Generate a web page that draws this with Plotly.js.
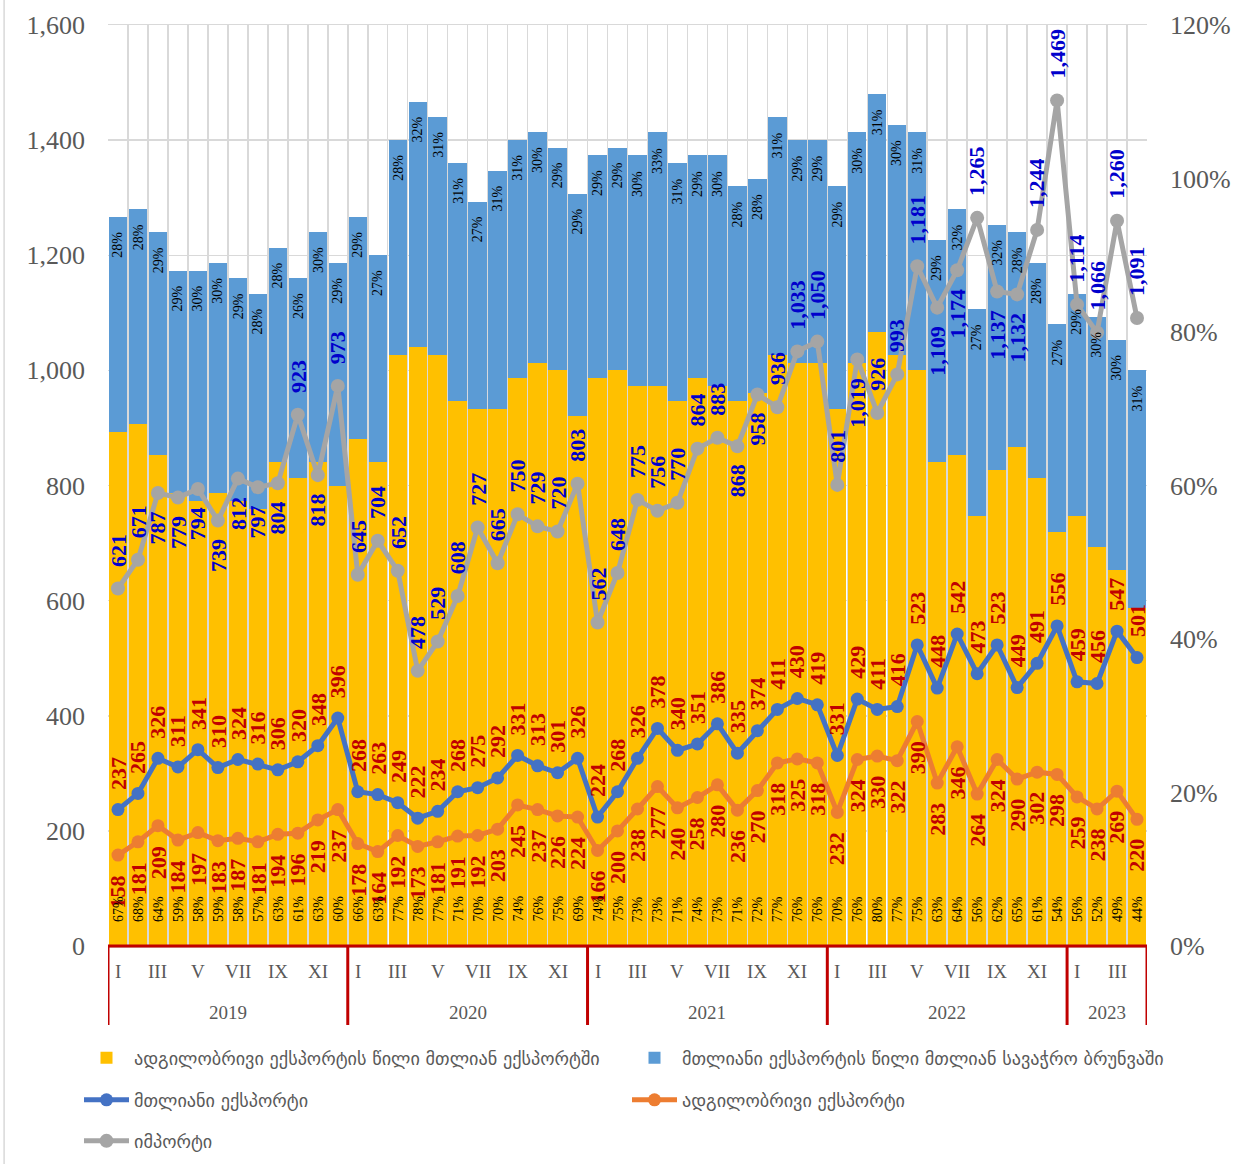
<!DOCTYPE html>
<html><head><meta charset="utf-8">
<script src="https://cdn.plot.ly/plotly-3.0.1.min.js"></script>
<style>body{margin:0;background:#fff}#chart{width:1237px;height:1164px}</style>
</head><body><div id="chart"></div>
<script>
// ---- data ----
const years = ['2019', '2020', '2021', '2022', '2023'];
const monthsPerYear = [12, 12, 12, 12, 4];
const romans = ['I','II','III','IV','V','VI','VII','VIII','IX','X','XI','XII'];
const pctTicks = [0, 20, 40, 60, 80, 100, 120];

// share of local export in total export (%)
const localShare = [67,68,64,59,58,59,58,57,63,61,63,60,
                    66,63,77,78,77,71,70,70,74,76,75,69,
                    74,75,73,73,71,74,73,71,72,77,76,76,
                    70,76,80,77,75,63,64,56,62,65,61,54,
                    56,52,49,44];
// share of total export in total trade (%)
const exportShare = [28,28,29,29,30,30,29,28,28,26,30,29,
                     29,27,28,32,31,31,27,31,31,30,29,29,
                     29,29,30,33,31,29,30,28,28,31,29,29,
                     29,30,31,30,31,29,32,27,32,28,28,27,
                     29,30,30,31];
// total export
const totalExport = [237,265,326,311,341,310,324,316,306,320,348,396,
                     268,263,249,222,234,268,275,292,331,313,301,326,
                     224,268,326,378,340,351,386,335,374,411,430,419,
                     331,429,411,416,523,448,542,473,523,449,491,556,
                     459,456,547,501];
// local export
const localExport = [158,181,209,184,197,183,187,181,194,196,219,237,
                     178,164,192,173,181,191,192,203,245,237,226,224,
                     166,200,238,277,240,258,280,236,270,318,325,318,
                     232,324,330,322,390,283,346,264,324,290,302,298,
                     259,238,269,220];
// import
const imports = [621,671,787,779,794,739,812,797,804,923,818,973,
                 645,704,652,478,529,608,727,665,750,729,720,803,
                 562,648,775,756,770,864,883,868,958,936,1033,1050,
                 801,1019,926,993,1181,1109,1174,1265,1137,1132,1244,1469,
                 1114,1066,1260,1091];

// label placement for import values (a = above point, b = below point)
const importLabelPos = ('aabbbbbbbaba' + 'aaaaaaaaaaaa' + 'aaaaaaabbaaa' + 'abaaabbabbaa' + 'aaaa').split('');

const names = {
  localShare: 'ადგილობრივი ექსპორტის წილი მთლიან ექსპორტში',
  exportShare: 'მთლიანი ექსპორტის წილი მთლიან სავაჭრო ბრუნვაში',
  totalExport: 'მთლიანი ექსპორტი',
  localExport: 'ადგილობრივი ექსპორტი',
  imports: 'იმპორტი'
};

// ---- build ----
const xIdx = totalExport.map((_, i) => i);
const fmt = v => v.toLocaleString('en-US');
const serif = 'Liberation Serif, Times New Roman, serif';
const geo = 'DejaVu Sans, Noto Sans, sans-serif';
const grey = '#595959';

const traces = [
  {type:'bar', x:xIdx, y:localShare, xaxis:'x', yaxis:'y', name:names.localShare,
   marker:{color:'#FFC000', line:{width:0}}, legend:'legend', showlegend:true, hoverinfo:'skip'},
  {type:'bar', x:xIdx, y:exportShare, xaxis:'x', yaxis:'y', name:names.exportShare,
   marker:{color:'#5B9BD5', line:{width:0}}, legend:'legend2', showlegend:true, hoverinfo:'skip'},
  {type:'scatter', mode:'lines+markers', x:xIdx, y:totalExport, xaxis:'x', yaxis:'y2', name:names.totalExport,
   line:{color:'#4472C4', width:5}, marker:{color:'#4472C4', size:13}, legend:'legend3', showlegend:true},
  {type:'scatter', mode:'lines+markers', x:xIdx, y:localExport, xaxis:'x', yaxis:'y2', name:names.localExport,
   line:{color:'#ED7D31', width:5}, marker:{color:'#ED7D31', size:13}, legend:'legend4', showlegend:true},
  {type:'scatter', mode:'lines+markers', x:xIdx, y:imports, xaxis:'x', yaxis:'y2', name:names.imports,
   line:{color:'#A5A5A5', width:5}, marker:{color:'#A5A5A5', size:14}, legend:'legend5', showlegend:true}
];

const annotations = [];
const bigFont = c => ({family:serif, size:22, color:c, weight:'bold'});
xIdx.forEach(i => {
  const up = importLabelPos[i] === 'a';
  annotations.push({x:i, y:imports[i], xref:'x', yref:'y2', text:fmt(imports[i]), textangle:-90,
    showarrow:false, xanchor:'center', yanchor: up ? 'bottom' : 'top', yshift: up ? 20 : -16, font:bigFont('#0000CC')});
  annotations.push({x:i, y:totalExport[i], xref:'x', yref:'y2', text:fmt(totalExport[i]), textangle:-90,
    showarrow:false, xanchor:'center', yanchor:'bottom', yshift:18, font:bigFont('#C00000')});
  annotations.push({x:i, y:localExport[i], xref:'x', yref:'y2', text:fmt(localExport[i]), textangle:-90,
    showarrow:false, xanchor:'center', yanchor:'top', yshift:-18, font:bigFont('#C00000')});
  annotations.push({x:i, y:0, xref:'x', yref:'y', text:localShare[i] + '%', textangle:-90,
    showarrow:false, xanchor:'center', yanchor:'bottom', yshift:22, font:{family:serif, size:14, color:'#000'}});
  annotations.push({x:i, y:localShare[i] + exportShare[i], xref:'x', yref:'y', text:exportShare[i] + '%', textangle:-90,
    showarrow:false, xanchor:'center', yanchor:'top', yshift:-13, font:{family:serif, size:14, color:'#000'}});
});

// category labels (months and years) + red separators
const shapes = [];
let start = 0;
years.forEach((yr, k) => {
  const n = monthsPerYear[k];
  for (let m = 0; m < n; m += 2) {
    annotations.push({x:start + m, y:-0.0282, xref:'x', yref:'paper', text:romans[m], showarrow:false,
      xanchor:'center', yanchor:'middle', font:{family:serif, size:19, color:grey}});
  }
  annotations.push({x:start + (n - 1) / 2, y:-0.0717, xref:'x', yref:'paper', text:yr, showarrow:false,
    xanchor:'center', yanchor:'middle', font:{family:serif, size:19, color:grey}});
  shapes.push({type:'line', xref:'x', yref:'paper', x0:start - 0.5, x1:start - 0.5, y0:0, y1:-0.0858,
    line:{color:'#C00000', width:3}});
  start += n;
});
shapes.push({type:'line', xref:'x', yref:'paper', x0:start - 0.5, x1:start - 0.5, y0:0, y1:-0.0858,
  line:{color:'#C00000', width:3}});
shapes.push({type:'line', xref:'paper', yref:'paper', x0:0, x1:1, y0:0, y1:0, line:{color:'#C00000', width:3}});
shapes.push({type:'line', xref:'paper', yref:'paper', x0:-0.1, x1:-0.1, y0:1.03, y1:-0.24, line:{color:'#d9d9d9', width:1.5}});

const boundaries = xIdx.map(i => i - 0.5).concat([xIdx.length - 0.5]);

// legend positions (px in the 1237x1164 page)
const legendBase = {orientation:'h', xanchor:'left', yanchor:'middle', traceorder:'normal', visible:true,
  itemwidth:45, font:{family:geo, size:18.2, color:grey}, bgcolor:'rgba(0,0,0,0)'};
const lg = (px, py) => Object.assign({}, legendBase, {x:(px - 108) / 1039, y:(946 - py) / 921});
const col1 = 79, col2 = 627;

const layout = {
  width:1237, height:1164,
  margin:{l:108, r:90, t:25, b:218, autoexpand:false},
  paper_bgcolor:'#fff', plot_bgcolor:'#fff',
  showlegend:true,
  barmode:'stack', bargap:0.08,
  hovermode:false,
  xaxis:{range:[-0.5, xIdx.length - 0.5], tickvals:boundaries, showticklabels:false, ticks:'',
    showgrid:true, gridcolor:'#d9d9d9', gridwidth:1.5, zeroline:false,
    showline:true, mirror:true, linecolor:'#d9d9d9', linewidth:1.5},
  yaxis:{range:[0, 120], side:'right', tickvals:pctTicks, ticktext:pctTicks.map(v => v + '%'),
    showgrid:false, zeroline:false, showline:false, ticks:'', ticklabelstandoff:22,
    tickfont:{family:serif, size:26, color:grey}},
  yaxis2:{range:[0, 1600], overlaying:'y', side:'left', dtick:200, tickformat:',',
    showgrid:true, gridcolor:'#d9d9d9', gridwidth:1.5, zeroline:false, ticks:'', ticklabelstandoff:22,
    tickfont:{family:serif, size:26, color:grey}},
  legend:lg(col1, 1058),
  legend2:lg(col2, 1058),
  legend3:lg(col1, 1100),
  legend4:lg(col2, 1100),
  legend5:lg(col1, 1141),
  annotations:annotations,
  shapes:shapes
};

Plotly.newPlot('chart', traces, layout, {displayModeBar:false, staticPlot:true});
</script>
</body></html>
